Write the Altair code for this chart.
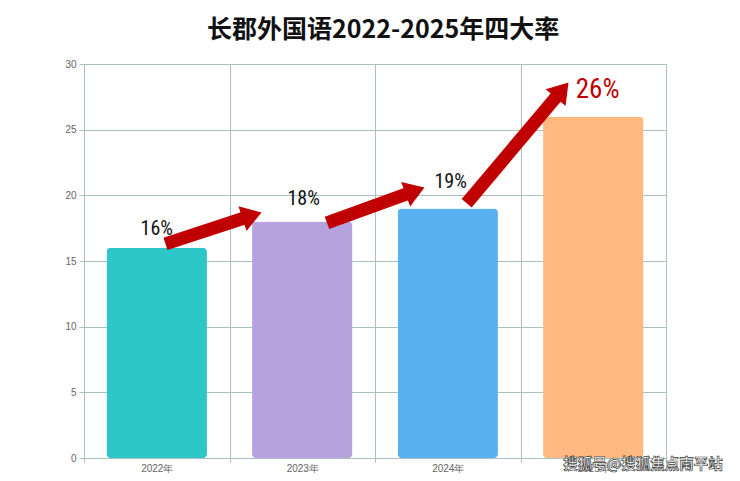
import math
import altair as alt
import pandas as pd

years = ["2022年", "2023年", "2024年", "2025年"]
rates = [16, 18, 19, 26]
bar_colors = ["#2ec7c9", "#b6a2de", "#5ab1ef", "#ffb980"]
label_text = ["16%", "18%", "19%", "26%"]
label_pos = [0.0, 1.01, 2.02, 3.03]
label_y = [17.4, 19.7, 21.0, 28.0]
label_colors = ["#111111", "#111111", "#111111", "#c00000"]
label_sizes = [20, 20, 20, 27]

arrow_x0 = [0.06, 1.17, 2.13]
arrow_y0 = [16.3, 17.9, 19.4]
arrow_x1 = [0.72, 1.84, 2.83]
arrow_y1 = [18.7, 20.6, 28.6]

W, H = 582, 394
YMAX = 30
px_x = W / 4.0
px_y = H / float(YMAX)
HEAD = 20

bars = pd.DataFrame({"year": years, "rate": rates, "color": bar_colors})
labels = pd.DataFrame({"pos": label_pos, "y": label_y, "text": label_text,
                       "color": label_colors, "size": label_sizes})

rows = []
for x0, y0, x1, y1 in zip(arrow_x0, arrow_y0, arrow_x1, arrow_y1):
    dx = (x1 - x0) * px_x
    dy = (y1 - y0) * px_y
    ln = math.hypot(dx, dy)
    back = HEAD - 2
    bx = x1 - back * dx / ln / px_x
    by = y1 - back * dy / ln / px_y
    ang = math.degrees(math.atan2(dx, dy))
    rows.append({"x0": x0, "y0": y0, "bx": bx, "by": by, "x1": x1, "y1": y1, "angle": ang})
arrows = pd.DataFrame(rows)

grid_c = "#a9c2c1"
yscale = alt.Scale(domain=[0, YMAX])

bar_layer = alt.Chart(bars).mark_bar(width={"band": 0.69}, cornerRadius=4).encode(
    x=alt.X("year:N", sort=years, title=None,
            scale=alt.Scale(paddingInner=0, paddingOuter=0),
            axis=alt.Axis(labelAngle=0, labelColor="#666666", labelFontSize=10,
                          labelFont="Liberation Sans", tickBand="extent",
                          grid=True, gridColor=grid_c, gridWidth=1,
                          domainColor=grid_c, tickColor=grid_c, tickSize=4,
                          labelPadding=1, labelBaseline="top")),
    y=alt.Y("rate:Q", scale=yscale, title=None,
            axis=alt.Axis(values=[0, 5, 10, 15, 20, 25, 30], labelColor="#666666",
                          labelFontSize=10, labelFont="Liberation Sans",
                          grid=True, gridColor=grid_c, domainColor=grid_c, tickColor=grid_c,
                          tickSize=5, labelPadding=3)),
    color=alt.Color("color:N", scale=None, legend=None),
)

xq = alt.Scale(domain=[-0.5, 3.5], nice=False, zero=False)

shaft = alt.Chart(arrows).mark_rule(color="#c00000", strokeWidth=13, strokeCap="butt").encode(
    x=alt.X("x0:Q", scale=xq, axis=None),
    x2="bx:Q",
    y=alt.Y("y0:Q", scale=yscale, title=None),
    y2="by:Q",
)

head = alt.Chart(arrows).mark_point(
    shape="M0,0L1.3,2L-1.3,2Z", filled=True, size=400, color="#c00000", opacity=1
).encode(
    x=alt.X("x1:Q", scale=xq, axis=None),
    y=alt.Y("y1:Q", scale=yscale, title=None),
    angle=alt.Angle("angle:Q", scale=None),
)

text_layer = alt.Chart(labels).mark_text(
    font="Liberation Sans Narrow, Roboto Condensed, Liberation Sans", baseline="middle", align="center"
).encode(
    x=alt.X("pos:Q", scale=xq, axis=None),
    y=alt.Y("y:Q", scale=yscale, title=None),
    text="text:N",
    color=alt.Color("color:N", scale=None, legend=None),
    size=alt.Size("size:Q", scale=None, legend=None),
)

watermark = alt.Chart(pd.DataFrame({"t": ["搜狐号@搜狐焦点南平站"]})).mark_text(
    font="Noto Sans CJK SC", fontSize=14.5, fontWeight="bold", color="white",
    stroke="#3a3a3a", strokeWidth=0.7, align="center", baseline="middle"
).encode(text="t:N", x=alt.value(559), y=alt.value(401))

chart = alt.layer(bar_layer, shaft, head, text_layer, watermark).resolve_scale(
    x="independent"
).properties(
    width=W, height=H,
    title=alt.TitleParams("长郡外国语2022-2025年四大率", font="Noto Sans CJK SC",
                          fontSize=25, fontWeight="bold", color="#111111",
                          anchor="middle", dx=8, offset=16),
    autosize=alt.AutoSizeParams(type="none"),
    padding={"left": 76, "top": 56, "right": 66, "bottom": 15},
).configure_view(stroke=grid_c, strokeWidth=1)

chart.save("out.html", embed_options={"renderer": "svg", "actions": False})
